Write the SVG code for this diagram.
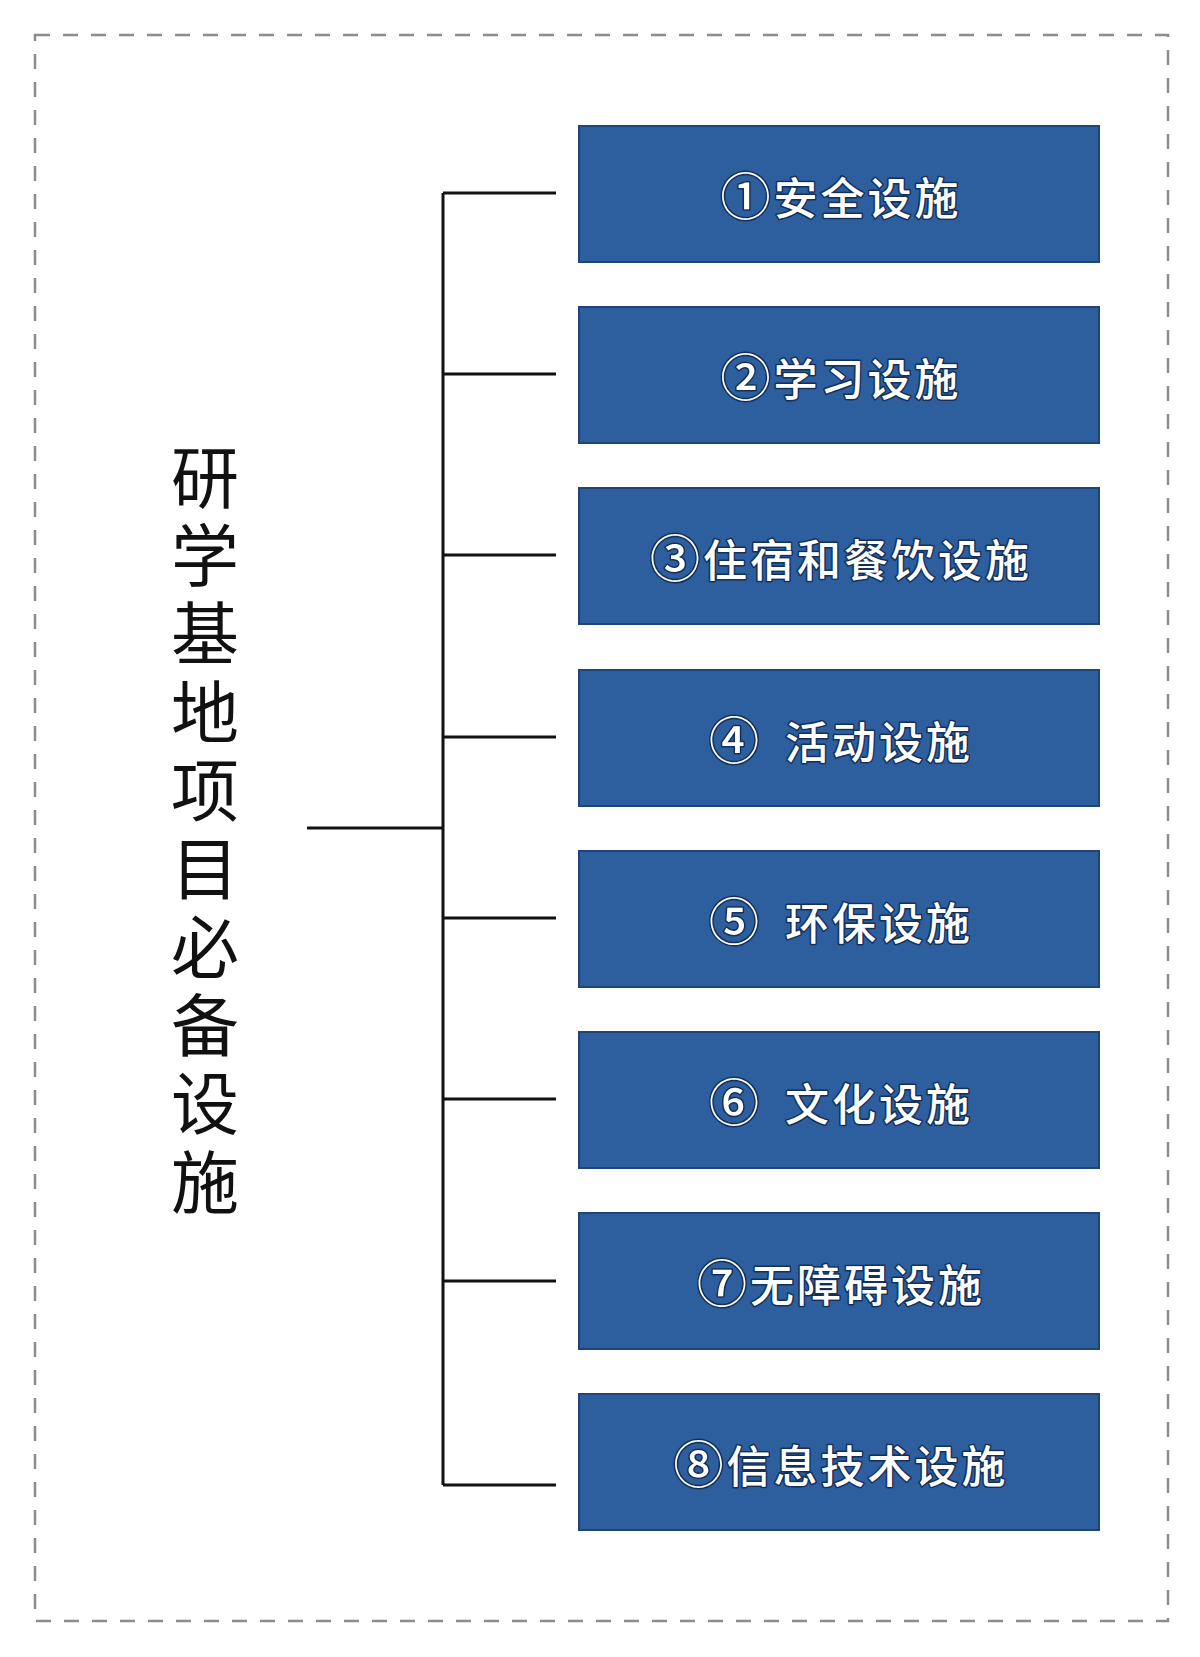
<svg xmlns="http://www.w3.org/2000/svg" width="1200" height="1657" viewBox="0 0 1200 1657">
  <style>
    .frame { fill: none; stroke: #8c8c8c; stroke-width: 2.5; stroke-dasharray: 15 13; }
    .box { fill: #2d5e9e; stroke: #1f4477; stroke-width: 2; }
    .lbl { font-family: "Noto Sans CJK SC", "Noto Sans CJK TC", sans-serif; font-size: 44px; font-weight: 500; fill: #ffffff; stroke: #13305a; stroke-width: 3; paint-order: stroke; stroke-linejoin: round; letter-spacing: 3px; text-anchor: middle; }
    .num { font-size: 50px; }
    .title { font-family: "Noto Sans CJK SC", "Noto Sans CJK TC", sans-serif; font-size: 68px; font-weight: 400; fill: #111111; writing-mode: vertical-rl; letter-spacing: 10.3px; }
    .conn { fill: none; stroke: #111111; stroke-width: 3; }
  </style>
  <rect x="0" y="0" width="1200" height="1657" fill="#ffffff"/>
  <rect class="frame" x="35" y="35" width="1133" height="1586"/>

  <g id="title">
    <text class="title" x="205" y="443">研学基地项目必备设施</text>
  </g>

  <g id="connectors">
    <path class="conn" d="M307 828 H443"/>
    <path class="conn" d="M443 193 V1485"/>
    <path class="conn" d="M443 193 H556"/>
    <path class="conn" d="M443 374 H556"/>
    <path class="conn" d="M443 555 H556"/>
    <path class="conn" d="M443 737 H556"/>
    <path class="conn" d="M443 918 H556"/>
    <path class="conn" d="M443 1099 H556"/>
    <path class="conn" d="M443 1281 H556"/>
    <path class="conn" d="M443 1485 H556"/>
  </g>

  <g id="node1">
    <rect class="box" x="579" y="126" width="520" height="136"/>
    <text class="lbl" x="841" y="215"><tspan class="num">①</tspan>安全设施</text>
  </g>
  <g id="node2">
    <rect class="box" x="579" y="307" width="520" height="136"/>
    <text class="lbl" x="841" y="396"><tspan class="num">②</tspan>学习设施</text>
  </g>
  <g id="node3">
    <rect class="box" x="579" y="488" width="520" height="136"/>
    <text class="lbl" x="841" y="577"><tspan class="num">③</tspan>住宿和餐饮设施</text>
  </g>
  <g id="node4">
    <rect class="box" x="579" y="670" width="520" height="136"/>
    <text class="lbl" x="841" y="759" xml:space="preserve"><tspan class="num">④</tspan> <tspan dx="10">活动设施</tspan></text>
  </g>
  <g id="node5">
    <rect class="box" x="579" y="851" width="520" height="136"/>
    <text class="lbl" x="841" y="940" xml:space="preserve"><tspan class="num">⑤</tspan> <tspan dx="10">环保设施</tspan></text>
  </g>
  <g id="node6">
    <rect class="box" x="579" y="1032" width="520" height="136"/>
    <text class="lbl" x="841" y="1121" xml:space="preserve"><tspan class="num">⑥</tspan> <tspan dx="10">文化设施</tspan></text>
  </g>
  <g id="node7">
    <rect class="box" x="579" y="1213" width="520" height="136"/>
    <text class="lbl" x="841" y="1302"><tspan class="num">⑦</tspan>无障碍设施</text>
  </g>
  <g id="node8">
    <rect class="box" x="579" y="1394" width="520" height="136"/>
    <text class="lbl" x="841" y="1483"><tspan class="num">⑧</tspan>信息技术设施</text>
  </g>
</svg>
